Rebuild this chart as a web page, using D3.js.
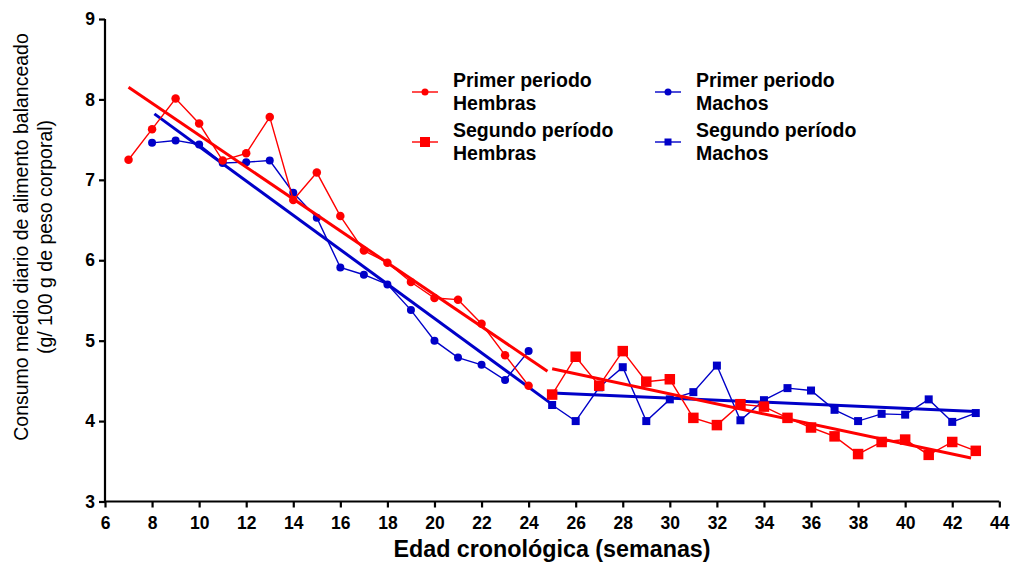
<!DOCTYPE html>
<html><head><meta charset="utf-8">
<script src="https://cdn.jsdelivr.net/npm/d3@7"></script>
<style>body{margin:0;background:#fff}svg{display:block}text{font-family:"Liberation Sans",Arial,sans-serif}</style>
</head><body><svg id="c" width="1010" height="566"></svg>
<script>
// Data
const weeksP1 = [7,8,9,10,11,12,13,14,15,16,17,18,19,20,21,22,23,24];
const hembrasP1 = [7.25,7.63,8.01,7.70,7.24,7.33,7.78,6.75,7.09,6.55,6.12,5.97,5.73,5.53,5.51,5.21,4.82,4.44];
const weeksMachosP1 = [8,9,10,11,12,13,14,15,16,17,18,19,20,21,22,23,24];
const machosP1 = [7.46,7.49,7.44,7.21,7.22,7.24,6.84,6.53,5.91,5.82,5.70,5.38,5.00,4.79,4.70,4.51,4.87];
const weeksP2 = [25,26,27,28,29,30,31,32,33,34,35,36,37,38,39,40,41,42,43];
const hembrasP2 = [4.33,4.80,4.44,4.87,4.49,4.52,4.04,3.95,4.21,4.18,4.04,3.92,3.81,3.59,3.74,3.77,3.58,3.74,3.63];
const machosP2 = [4.20,4.00,4.42,4.67,4.00,4.27,4.36,4.69,4.01,4.26,4.41,4.38,4.14,4.00,4.09,4.08,4.27,3.99,4.10];
// Regression line endpoints [x, y]
const fitHembrasP1 = [[7,8.15],[24.8,4.62]];
const fitMachosP1 = [[8.1,7.82],[24.9,4.23]];
const fitHembrasP2 = [[25,4.65],[42.8,3.54]];
const fitMachosP2 = [[25,4.35],[43,4.12]];
const xTicks = d3.range(6,45,2);
const yTicks = [3,4,5,6,7,8,9];
const legendItems = [
  {l1:"Primer periodo", l2:"Hembras", color:"#ff0000", shape:"circle"},
  {l1:"Segundo período", l2:"Hembras", color:"#ff0000", shape:"square"},
  {l1:"Primer periodo", l2:"Machos", color:"#0000c8", shape:"circle"},
  {l1:"Segundo período", l2:"Machos", color:"#0000c8", shape:"square"}
];

const RED = "#ff0000", BLUE = "#0000c8";
const svg = d3.select("#c");
const x = d3.scaleLinear().domain([6,44]).range([105,999.3]);
const y = d3.scaleLinear().domain([3,9]).range([501.5,19]);

// axes
const xa = svg.append("g").attr("transform","translate(0,501.5)")
  .call(d3.axisBottom(x).tickValues(xTicks).tickSize(6).tickPadding(9).tickFormat(d3.format("d")));
const ya = svg.append("g").attr("transform","translate(105,0)")
  .call(d3.axisLeft(y).tickValues(yTicks).tickSize(6).tickPadding(4).tickFormat(d3.format("d")));
[xa,ya].forEach(g=>{
  g.attr("font-size",null).attr("font-family",null);
  g.select(".domain").attr("stroke","#000").attr("stroke-width",2.2);
  g.selectAll(".tick line").attr("stroke","#000").attr("stroke-width",2.2);
  g.selectAll(".tick text").style("font-size","17.5px").style("font-weight","700")
   .style("fill","#000").style("font-family","'Liberation Sans',Arial,sans-serif");
});
xa.select(".domain").attr("d",`M105,0H999.3`);
ya.select(".domain").attr("d",`M0,19V501.5`);

// titles
svg.append("text").attr("x",552).attr("y",557).attr("text-anchor","middle")
  .style("font-size","23.3px").style("font-weight","bold").text("Edad cronológica (semanas)");
const yt = svg.append("text").attr("transform","translate(0,237) rotate(-90)").attr("text-anchor","middle").style("font-size","19.5px");
yt.append("tspan").attr("x",0).attr("y",28).text("Consumo medio diario de alimento balanceado");
yt.append("tspan").attr("x",0).attr("y",52).text("(g/ 100 g de peso corporal)");

const line = d3.line().x(d=>x(d[0])).y(d=>y(d[1]));
function series(xs, ys, color, shape, size){
  const pts = xs.map((w,i)=>[w,ys[i]]);
  svg.append("path").attr("d",line(pts)).attr("fill","none").attr("stroke",color).attr("stroke-width",1.4);
  if(shape==="circle"){
    svg.append("g").selectAll("circle").data(pts).join("circle")
      .attr("cx",d=>x(d[0])).attr("cy",d=>y(d[1])).attr("r",size/2).attr("fill",color);
  } else {
    svg.append("g").selectAll("rect").data(pts).join("rect")
      .attr("x",d=>x(d[0])-size/2).attr("y",d=>y(d[1])-size/2).attr("width",size).attr("height",size).attr("fill",color);
  }
}
function fit(pts,color){
  svg.append("path").attr("d",line(pts)).attr("fill","none").attr("stroke",color).attr("stroke-width",3);
}
series(weeksMachosP1, machosP1, BLUE, "circle", 8);
series(weeksP2, machosP2, BLUE, "square", 8);
fit(fitMachosP1, BLUE);
fit(fitMachosP2, BLUE);
series(weeksP1, hembrasP1, RED, "circle", 8.5);
series(weeksP2, hembrasP2, RED, "square", 10.5);
fit(fitHembrasP1, RED);
fit(fitHembrasP2, RED);

// legend
const lpos = [[412,92],[412,142],[655,92],[655,142]];
legendItems.forEach((it,i)=>{
  const [lx,ly] = lpos[i];
  const g = svg.append("g");
  g.append("line").attr("x1",lx).attr("x2",lx+26).attr("y1",ly).attr("y2",ly).attr("stroke",it.color).attr("stroke-width",1.4);
  if(it.shape==="circle") g.append("circle").attr("cx",lx+13).attr("cy",ly).attr("r",3.5).attr("fill",it.color);
  else { const s = it.color===RED?10:7; g.append("rect").attr("x",lx+13-s/2).attr("y",ly-s/2).attr("width",s).attr("height",s).attr("fill",it.color); }
  const t = g.append("text").style("font-size","19.5px").style("font-weight","bold");
  t.append("tspan").attr("x",lx+41).attr("y",ly-5).text(it.l1);
  t.append("tspan").attr("x",lx+41).attr("y",ly+18).text(it.l2);
});
</script></body></html>
